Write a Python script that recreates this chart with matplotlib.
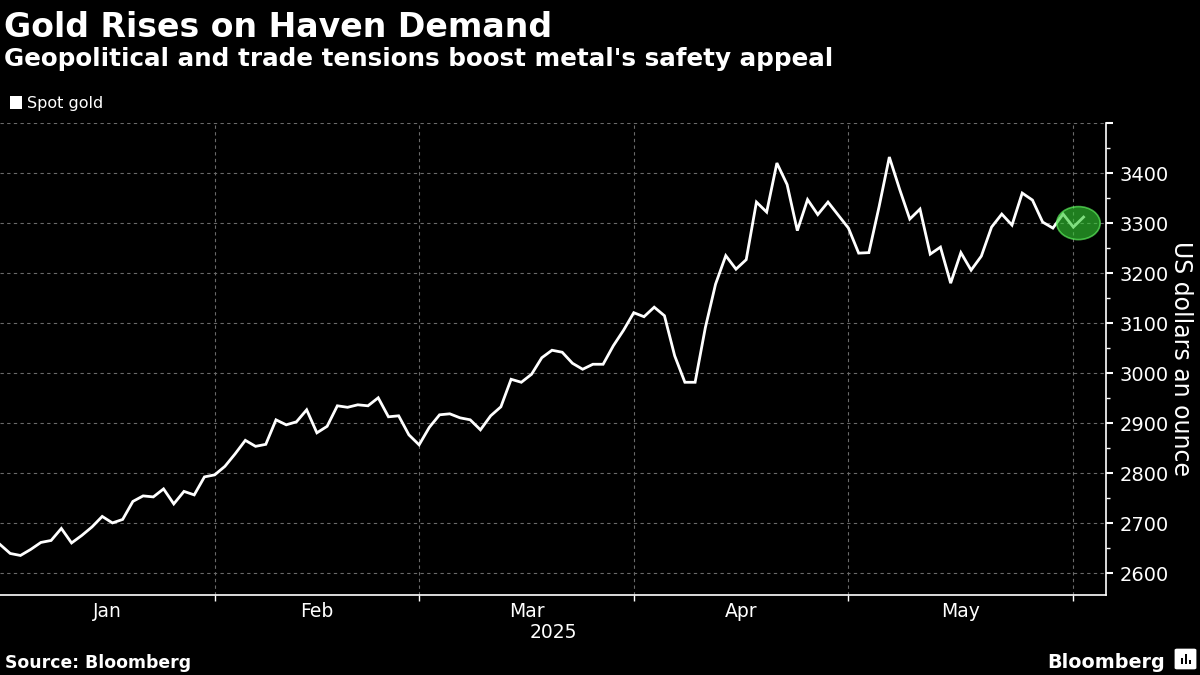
import numpy as np
import pandas as pd
import matplotlib
matplotlib.use("Agg")
import matplotlib.pyplot as plt
from matplotlib.patches import Ellipse, Patch, FancyBboxPatch, Rectangle

# Dados: preço spot do ouro (USD/onça), dias de negociação 2025
datas = pd.bdate_range("2025-01-02", "2025-06-02")
datas = datas[datas != pd.Timestamp("2025-04-18")]  # Sexta-feira Santa

ouro_jan = [2658, 2640, 2636, 2648, 2662, 2666, 2690, 2661, 2676, 2693, 2714,
            2701, 2708, 2744, 2755, 2753, 2769, 2739, 2764, 2757, 2793, 2797]
ouro_fev = [2814, 2839, 2866, 2854, 2858, 2907, 2897, 2903, 2927, 2881,
            2894, 2935, 2932, 2937, 2935, 2951, 2913, 2915, 2877, 2857]
ouro_mar = [2892, 2917, 2919, 2911, 2907, 2887, 2915, 2933, 2988, 2982, 2998,
            3031, 3046, 3042, 3020, 3008, 3018, 3018, 3055, 3086, 3121]
ouro_abr = [3113, 3132, 3115, 3035, 2982, 2982, 3091, 3178, 3235, 3208, 3227,
            3342, 3322, 3420, 3377, 3285, 3347, 3317, 3342, 3316, 3290]
ouro_mai = [3240, 3241, 3333, 3432, 3368, 3308, 3328, 3238, 3252, 3180, 3241,
            3206, 3234, 3292, 3318, 3296, 3360, 3346, 3302, 3290, 3318, 3292]
ouro_jun = [3312]
precos = ouro_jan + ouro_fev + ouro_mar + ouro_abr + ouro_mai + ouro_jun

meses = ["Jan", "Feb", "Mar", "Apr", "May"]
y_ticks = [2600, 2700, 2800, 2900, 3000, 3100, 3200, 3300, 3400]
destaque_preco = 3300  # centro do círculo verde

df = pd.DataFrame({"data": datas, "preco": precos})
df["i"] = np.arange(len(df))

# Último dia de negociação de cada mês -> linhas de grade
fim_mes = df.groupby(df["data"].dt.to_period("M"))["i"].max().values[:5]
limites = np.concatenate([[0], fim_mes])
meio_mes = (limites[:-1] + limites[1:]) / 2

BG = "black"
plt.rcParams["font.family"] = ["DejaVu Sans"]

fig = plt.figure(figsize=(12, 6.75), dpi=100, facecolor=BG)
ax = fig.add_axes([0.0, 0.1185, 0.9217, 0.6993])
ax.set_facecolor(BG)

ax.plot(df["i"], df["preco"], color="white", lw=2, solid_joinstyle="miter", zorder=3)

# Destaque nos últimos pontos
n = len(df)
ax.add_patch(Ellipse(((df["i"].iloc[n - 3] + df["i"].iloc[n - 1]) / 2 + 0.5, destaque_preco),
                     width=4.25, height=66, facecolor="#33cc33", alpha=0.62,
                     edgecolor="#66ff66", lw=1.2, zorder=4))

ax.set_xlim(0, 108.2)
ax.set_ylim(2557, 3500)

# Eixo y à direita
ax.yaxis.tick_right()
ax.set_yticks(y_ticks + [3500])
ax.set_yticklabels([str(v) for v in y_ticks] + [""])
ax.set_yticks(np.arange(2600, 3500, 50), minor=True)
ax.tick_params(axis="y", which="major", colors="white", labelsize=14, length=5, width=1.5, pad=5)
ax.tick_params(axis="y", which="minor", colors="white", length=3, width=1)
ax.set_ylabel("US dollars an ounce", color="white", fontsize=17, rotation=270, va="center")
ax.yaxis.set_label_coords(1.068, 0.5)

# Eixo x: grade no fim do mês, rótulos no meio
ax.set_xticks(limites[1:])
ax.set_xticklabels([""] * len(limites[1:]))
ax.set_xticks(meio_mes, minor=True)
ax.set_xticklabels(meses, minor=True)
ax.tick_params(axis="x", which="major", colors="white", length=4, width=1)
ax.tick_params(axis="x", which="minor", colors="white", length=0, labelsize=13.5, pad=5)

ax.grid(True, which="major", color="#6a6a6a", lw=0.8, ls=(0, (3, 3)))

for s in ["left", "top"]:
    ax.spines[s].set_visible(False)
for s in ["bottom", "right"]:
    ax.spines[s].set_color("white")
    ax.spines[s].set_linewidth(1.2)

fig.text(0.461, 1 - 633 / 675, "2025", color="white", fontsize=13.5, ha="center", va="center")

# Títulos
fig.text(0.003, 1 - 37 / 675, "Gold Rises on Haven Demand", color="white",
         fontsize=23.9, fontweight="bold", va="baseline")
fig.text(0.003, 1 - 66 / 675, "Geopolitical and trade tensions boost metal's safety appeal",
         color="white", fontsize=17.7, fontweight="bold", va="baseline")

# Legenda
fig.legend(handles=[Patch(facecolor="white", label="Spot gold")], loc="upper left",
           bbox_to_anchor=(0.0, 1 - 86 / 675), frameon=False, fontsize=11.5,
           labelcolor="white", handlelength=0.75, handleheight=0.9, handletextpad=0.35,
           borderaxespad=0.2)

# Rodapé
fig.text(0.004, 1 - 668 / 675, "Source: Bloomberg", color="white", fontsize=12.4,
         fontweight="bold", va="baseline")
fig.text(0.971, 1 - 668 / 675, "Bloomberg", color="white", fontsize=13.8,
         fontweight="bold", va="baseline", ha="right")
fig.patches.append(FancyBboxPatch((1177 / 1200, 1 - 668 / 675), 17 / 1200, 18 / 675,
                                  boxstyle="round,pad=0.002", transform=fig.transFigure,
                                  facecolor="white", edgecolor="none"))
for bx, bh in [(1181, 6), (1185, 10), (1189, 4)]:
    fig.patches.append(Rectangle((bx / 1200, 1 - 664 / 675), 2 / 1200, bh / 675,
                                 transform=fig.transFigure, facecolor="black"))

fig.savefig("out.png", dpi=100, facecolor=BG)
